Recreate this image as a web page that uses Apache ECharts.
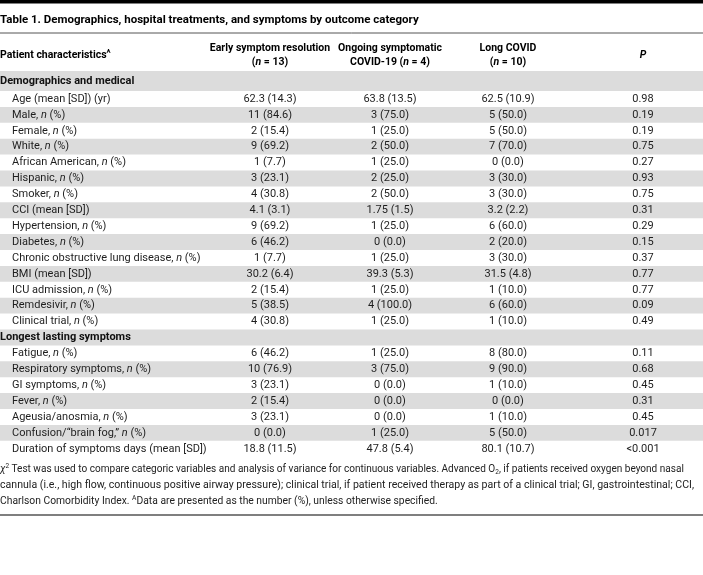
<!DOCTYPE html>
<html><head><meta charset="utf-8">
<script src="https://cdn.jsdelivr.net/npm/echarts@6/dist/echarts.min.js"></script>
<style>html,body{margin:0;padding:0;background:#fff}#c{width:703px;height:575px}</style>
</head><body><div id="c"></div>
<script>
// ---------- DATA ----------
const tableTitle = 'Table 1. Demographics, hospital treatments, and symptoms by outcome category';
const firstHeader = 'Patient characteristics{sup|A}';
const columnHeaders = [
  ['Early symptom resolution', '({i|n} = 13)'],
  ['Ongoing symptomatic', 'COVID-19 ({i|n} = 4)'],
  ['Long COVID', '({i|n} = 10)']
];
const pHeader = 'P';
const sectionNames = ['Demographics and medical', 'Longest lasting symptoms'];

const demoLabels = ['Age (mean [SD]) (yr)', 'Male, {i|n} (%)', 'Female, {i|n} (%)', 'White, {i|n} (%)',
  'African American, {i|n} (%)', 'Hispanic, {i|n} (%)', 'Smoker, {i|n} (%)', 'CCI (mean [SD])',
  'Hypertension, {i|n} (%)', 'Diabetes, {i|n} (%)', 'Chronic obstructive lung disease, {i|n} (%)',
  'BMI (mean [SD])', 'ICU admission, {i|n} (%)', 'Remdesivir, {i|n} (%)', 'Clinical trial, {i|n} (%)'];
const demoEarly = ['62.3 (14.3)', '11 (84.6)', '2 (15.4)', '9 (69.2)', '1 (7.7)', '3 (23.1)', '4 (30.8)',
  '4.1 (3.1)', '9 (69.2)', '6 (46.2)', '1 (7.7)', '30.2 (6.4)', '2 (15.4)', '5 (38.5)', '4 (30.8)'];
const demoOngoing = ['63.8 (13.5)', '3 (75.0)', '1 (25.0)', '2 (50.0)', '1 (25.0)', '2 (25.0)', '2 (50.0)',
  '1.75 (1.5)', '1 (25.0)', '0 (0.0)', '1 (25.0)', '39.3 (5.3)', '1 (25.0)', '4 (100.0)', '1 (25.0)'];
const demoLong = ['62.5 (10.9)', '5 (50.0)', '5 (50.0)', '7 (70.0)', '0 (0.0)', '3 (30.0)', '3 (30.0)',
  '3.2 (2.2)', '6 (60.0)', '2 (20.0)', '3 (30.0)', '31.5 (4.8)', '1 (10.0)', '6 (60.0)', '1 (10.0)'];
const demoP = ['0.98', '0.19', '0.19', '0.75', '0.27', '0.93', '0.75', '0.31', '0.29', '0.15', '0.37',
  '0.77', '0.77', '0.09', '0.49'];

const sympLabels = ['Fatigue, {i|n} (%)', 'Respiratory symptoms, {i|n} (%)', 'GI symptoms, {i|n} (%)',
  'Fever, {i|n} (%)', 'Ageusia/anosmia, {i|n} (%)', 'Confusion/\u201cbrain fog,\u201d {i|n} (%)',
  'Duration of symptoms days (mean [SD])'];
const sympEarly = ['6 (46.2)', '10 (76.9)', '3 (23.1)', '2 (15.4)', '3 (23.1)', '0 (0.0)', '18.8 (11.5)'];
const sympOngoing = ['1 (25.0)', '3 (75.0)', '0 (0.0)', '0 (0.0)', '0 (0.0)', '1 (25.0)', '47.8 (5.4)'];
const sympLong = ['8 (80.0)', '9 (90.0)', '1 (10.0)', '0 (0.0)', '1 (10.0)', '5 (50.0)', '80.1 (10.7)'];
const sympP = ['0.11', '0.68', '0.45', '0.31', '0.45', '0.017', '<0.001'];

const footnoteLines = [
  '{it|\u03c7}{sup|2} Test was used to compare categoric variables and analysis of variance for continuous variables. Advanced O{sub|2}, if patients received oxygen beyond nasal',
  'cannula (i.e., high flow, continuous positive airway pressure); clinical trial, if patient received therapy as part of a clinical trial; GI, gastrointestinal; CCI,',
  'Charlson Comorbidity Index. {sup|A}Data are presented as the number (%), unless otherwise specified.'
];

// ---------- LAYOUT ----------
const W = 703, H = 575;
const FONT = 'Roboto, "Noto Sans", sans-serif';
const colX = [270, 390, 508, 643];
const labelIndent = 12;
const sec1Top = 71, sec1H = 20, rowH = 15.9;
const footTop = 469, footGap = 16;
const footFullW = [688, 694];   // widths of the two full-width footnote lines

const rows = [];
rows.push({ section: sectionNames[0] });
demoLabels.forEach((l, k) => rows.push({ label: l, vals: [demoEarly[k], demoOngoing[k], demoLong[k], demoP[k]] }));
rows.push({ section: sectionNames[1] });
sympLabels.forEach((l, k) => rows.push({ label: l, vals: [sympEarly[k], sympOngoing[k], sympLong[k], sympP[k]] }));

function rowBox(i) {
  if (i === 0) return { top: sec1Top, h: sec1H, grey: true };
  const top = sec1Top + sec1H + (i - 1) * rowH;
  return { top, h: rowH, grey: (i - 1) % 2 === 1 || !!rows[i].section };
}

const chart = echarts.init(document.getElementById('c'), null, { renderer: 'canvas' });

function renderRow(params, api) {
  const i = api.value(0);
  const r = rows[i];
  const b = rowBox(i);
  const tl = api.coord([0, b.top]);
  const br = api.coord([W, b.top + b.h]);
  const cy = (tl[1] + br[1]) / 2;
  const children = [];
  if (b.grey) {
    children.push({ type: 'rect', shape: { x: tl[0], y: tl[1], width: br[0] - tl[0], height: br[1] - tl[1] },
      style: { fill: '#dcdcdc' } });
  }
  if (r.section) {
    children.push({ type: 'text', style: { text: r.section, x: api.coord([0, 0])[0], y: cy,
      font: 'bold 11px ' + FONT, fill: '#111', textVerticalAlign: 'middle', textAlign: 'left' } });
  } else {
    children.push({ type: 'text', style: { text: r.label, x: api.coord([labelIndent, 0])[0], y: cy,
      fontFamily: FONT, fontSize: 11, fill: '#1e1e1e', verticalAlign: 'middle', align: 'left',
      rich: { i: { fontStyle: 'italic', fontFamily: FONT, fontSize: 11, fill: '#1e1e1e' } } } });
    r.vals.forEach((v, k) => {
      children.push({ type: 'text', style: { text: v, x: api.coord([colX[k], 0])[0], y: cy,
        font: '11px ' + FONT, fill: '#1e1e1e', textVerticalAlign: 'middle', textAlign: 'center' } });
    });
  }
  return { type: 'group', children };
}

// horizontal fit of the footnote: the two full lines fitted individually, the last one with their mean scale
const mctx = document.createElement('canvas').getContext('2d');
function plain(s) { return s.replace(/\{\w+\|([^}]*)\}/g, '$1'); }
mctx.font = '10px ' + FONT;
const fullScales = footFullW.map((w, j) => w / mctx.measureText(plain(footnoteLines[j])).width);
const meanScale = (fullScales[0] + fullScales[1]) / 2;
const footScales = footnoteLines.map((l, j) => j < fullScales.length ? fullScales[j] : meanScale);

const footRich = {
  it: { fontStyle: 'italic', fontFamily: FONT, fontSize: 10, fill: '#222', lineHeight: 13 },
  sup: { fontFamily: FONT, fontSize: 6.5, fill: '#222', verticalAlign: 'top', lineHeight: 13 },
  sub: { fontFamily: FONT, fontSize: 6.5, fill: '#222', verticalAlign: 'bottom', lineHeight: 13 }
};

const graphics = [];
graphics.push({ type: 'rect', shape: { x: 0, y: 0, width: W, height: 3.5 }, style: { fill: '#000' } });
graphics.push({ type: 'text', style: { text: tableTitle, x: 0, y: 20, font: 'bold 11.5px ' + FONT, fill: '#000',
  textVerticalAlign: 'middle' } });
graphics.push({ type: 'line', shape: { x1: 0, y1: 33, x2: W, y2: 33 }, style: { stroke: '#555', lineWidth: 1 } });
graphics.push({ type: 'text', style: { text: firstHeader, x: 0, y: 55, fontFamily: FONT, fontWeight: 'bold',
  fontSize: 10.5, fill: '#000', verticalAlign: 'middle', lineHeight: 13,
  rich: { sup: { fontFamily: FONT, fontWeight: 'bold', fontSize: 6, verticalAlign: 'top', lineHeight: 13 } } } });
columnHeaders.forEach((h, k) => {
  h.forEach((line, j) => {
    graphics.push({ type: 'text', style: { text: line, x: colX[k], y: 48 + j * 14, fontFamily: FONT,
      fontWeight: 'bold', fontSize: 10.5, fill: '#000', align: 'center', verticalAlign: 'middle',
      rich: { i: { fontFamily: FONT, fontWeight: 'bold', fontStyle: 'italic', fontSize: 10.5, fill: '#000' } } } });
  });
});
graphics.push({ type: 'text', style: { text: pHeader, x: colX[3], y: 55, font: 'italic bold 10.5px ' + FONT,
  fill: '#000', textAlign: 'center', textVerticalAlign: 'middle' } });
footnoteLines.forEach((line, j) => {
  graphics.push({ type: 'text', x: 0, y: footTop + j * footGap, scaleX: footScales[j],
    style: { text: line, x: 0, y: 0, fontFamily: FONT, fontSize: 10, fill: '#222', lineHeight: 13,
      verticalAlign: 'middle', align: 'left', rich: footRich } });
});
graphics.push({ type: 'line', shape: { x1: 0, y1: 515, x2: W, y2: 515 }, style: { stroke: '#555', lineWidth: 1.3 } });

chart.setOption({
  animation: false,
  grid: { left: 0, right: 0, top: 0, bottom: 0 },
  xAxis: { type: 'value', min: 0, max: W, show: false },
  yAxis: { type: 'value', min: 0, max: H, inverse: true, show: false },
  graphic: graphics,
  series: [{
    type: 'custom',
    renderItem: renderRow,
    data: rows.map((r, i) => [i]),
    z: 1,
    silent: true
  }]
});
</script>
</body></html>
